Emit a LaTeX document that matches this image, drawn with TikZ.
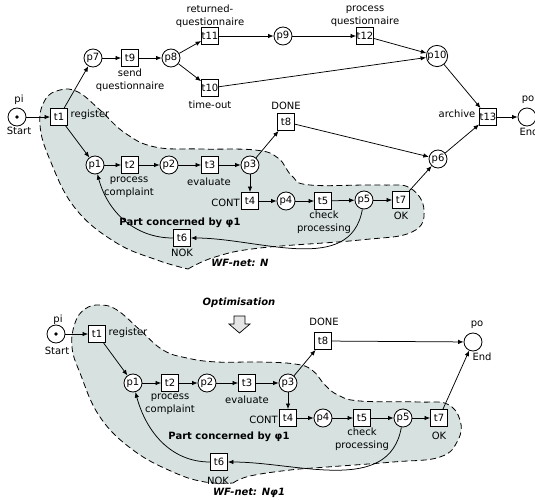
\documentclass[tikz,border=0pt]{standalone}
\usepackage{fontspec}
\setmainfont{DejaVu Sans}
\usetikzlibrary{arrows.meta}
\definecolor{blobfill}{RGB}{214,225,224}
\begin{document}
\begin{tikzpicture}[x=1pt,y=-1pt,
  fnt/.style={font=\fontsize{10}{12.5}\selectfont},
  pl/.style={circle,draw,line width=0.85pt,minimum size=18pt,inner sep=0pt,fill=white,fnt},
  tr/.style={rectangle,draw,line width=0.85pt,minimum size=17pt,inner sep=0pt,fill=white,fnt},
  arc/.style={-{Latex[length=5.5pt,width=4.5pt]},line width=0.75pt},
  lbl/.style={inner sep=0pt,align=center,fnt},
  bl/.style={fill=blobfill,draw,dash pattern=on 6pt off 3.5pt,line width=0.8pt},
  ttl/.style={inner sep=0pt,font=\fontsize{10}{12}\selectfont\bfseries},
  ttli/.style={inner sep=0pt,font=\fontsize{10}{12}\selectfont\bfseries\itshape}
]
\useasboundingbox (0,0) rectangle (535,499);

% ---------- blobs ----------
\draw[bl] plot[smooth,tension=0.7] coordinates {
 (188,269) (215,257) (260,248) (360,240) (412,232) (424,210) (410,188) (380,185)
 (310,185) (292,176) (278,158) (255,150) (200,149) (155,147) (125,133) (100,110)
 (78,92) (60,90) (45,100) (40,125) (50,160) (75,208) (115,242) (157,260) (188,269)} -- cycle;

\draw[bl] plot[smooth,tension=0.7] coordinates {
 (233,483) (250,476) (290,470) (327,467) (393,462) (440,457) (458,440) (460,420)
 (447,404) (420,402) (360,401) (338,395) (325,385) (312,370) (295,364) (260,362)
 (217,362) (187,358) (163,350) (140,330) (117,310) (100,305) (85,309) (75,323)
 (72,347) (80,373) (100,417) (133,450) (173,472) (205,482) (233,483)} -- cycle;

% ---------- top net ----------
\node[pl] (pi) at (17,117) {};
\fill (pi.center) circle (1.8pt);
\node[tr] (t1) at (59,117) {t1};
\node[pl] (p7) at (93,58) {p7};
\node[tr] (t9) at (130,58) {t9};
\node[pl] (p8) at (171,58) {p8};
\node[tr] (t11) at (210,36) {t11};
\node[tr] (t10) at (210,88) {t10};
\node[pl] (p9) at (283,36) {p9};
\node[tr] (t12) at (365,36) {t12};
\node[pl] (p10) at (437,56) {p10};
\node[tr] (t13) at (488,117) {t13};
\node[pl] (po) at (527,117) {};
\node[tr] (t8) at (286,122) {t8};
\node[pl] (p6) at (438,159) {p6};
\node[pl] (p1) at (95,165) {p1};
\node[tr] (t2) at (130,165) {t2};
\node[pl] (p2) at (169,165) {p2};
\node[tr] (t3) at (210,165) {t3};
\node[pl] (p3) at (250,165) {p3};
\node[tr] (t4) at (250,201) {t4};
\node[pl] (p4) at (286,201) {p4};
\node[tr] (t5) at (323,201) {t5};
\node[pl] (p5) at (364,200) {p5};
\node[tr] (t7) at (401,200) {t7};
\node[tr] (t6) at (182,238) {t6};

\node[lbl] (Lpi) at (19,100) {pi};
\node[lbl] (Lstart) at (19,131) {Start};
\node[lbl] (Lreg) at (90,115) {register};
\node[lbl] (Lsend) at (130,80) {send\\questionnaire};
\node[lbl] (Lret) at (210,16) {returned-\\questionnaire};
\node[lbl] (Ltime) at (210,105) {time-out};
\node[lbl] (Lproq) at (365,16) {process\\questionnaire};
\node[lbl] (Larch) at (457,114) {archive};
\node[lbl] (Lpo) at (528,100) {po};
\node[lbl] (Lend) at (529,132) {End};
\node[lbl] (Ldone) at (286,106) {DONE};
\node[lbl] (Lproc) at (129,187) {process\\complaint};
\node[lbl] (Leval) at (209,182) {evaluate};
\node[lbl,anchor=east] (Lcont) at (240,203) {CONT};
\node[lbl] (Lcheck) at (324,222) {check\\processing};
\node[lbl] (Lok) at (401,216) {OK};
\node[lbl] (Lnok) at (182,253) {NOK};
\node[ttl] (Lpart) at (180,223) {Part concerned by φ1};
\node[ttli] (Lwf) at (240,263) {WF-net: N};

\draw[arc] (pi) -- (t1);
\draw[arc] (t1) -- (p7);
\draw[arc] (t1) -- (p1);
\draw[arc] (p7) -- (t9);
\draw[arc] (t9) -- (p8);
\draw[arc] (p8) -- (t11);
\draw[arc] (p8) -- (t10);
\draw[arc] (t11) -- (p9);
\draw[arc] (p9) -- (t12);
\draw[arc] (t12) -- (p10);
\draw[arc] (t10) -- (p10);
\draw[arc] (p10) -- (t13);
\draw[arc] (t13) -- (po);
\draw[arc] (p3) -- (t8);
\draw[arc] (t8) -- (p6);
\draw[arc] (t7) -- (p6);
\draw[arc] (p6) -- (t13);
\draw[arc] (p1) -- (t2);
\draw[arc] (t2) -- (p2);
\draw[arc] (p2) -- (t3);
\draw[arc] (t3) -- (p3);
\draw[arc] (p3) -- (t4);
\draw[arc] (t4) -- (p4);
\draw[arc] (p4) -- (t5);
\draw[arc] (t5) -- (p5);
\draw[arc] (p5) -- (t7);
\draw[arc] (p5) to[out=-100,in=0] (t6);
\draw[arc] (t6) to[out=180,in=-75] (p1);

% ---------- optimisation ----------
\node[ttli] (Lopt) at (239,303) {Optimisation};
\draw[line width=0.7pt,fill=gray!20] (234,316) -- (245,316) -- (245,324) -- (250,324)
  -- (239.5,333) -- (229,324) -- (234,324) -- cycle;

% ---------- bottom net ----------
\node[pl] (bpi) at (56,334) {};
\fill (bpi.center) circle (1.8pt);
\node[tr] (bt1) at (97,334) {t1};
\node[pl] (bp1) at (133,383) {p1};
\node[tr] (bt2) at (170,383) {t2};
\node[pl] (bp2) at (207,383) {p2};
\node[tr] (bt3) at (247,383) {t3};
\node[pl] (bp3) at (288,383) {p3};
\node[tr] (bt8) at (323,341) {t8};
\node[pl] (bpo) at (473,342) {};
\node[tr] (bt4) at (288,418) {t4};
\node[pl] (bp4) at (323,418) {p4};
\node[tr] (bt5) at (362,418) {t5};
\node[pl] (bp5) at (403,418) {p5};
\node[tr] (bt7) at (439,418) {t7};
\node[tr] (bt6) at (219,462) {t6};

\node[lbl] (bLpi) at (58,320) {pi};
\node[lbl] (bLstart) at (57,351) {Start};
\node[lbl] (bLreg) at (128,333) {register};
\node[lbl] (bLproc) at (170,404) {process\\complaint};
\node[lbl] (bLeval) at (247,400) {evaluate};
\node[lbl] (bLdone) at (324,322) {DONE};
\node[lbl] (bLpo) at (477,325) {po};
\node[lbl] (bLend) at (482,357) {End};
\node[lbl,anchor=east] (bLcont) at (278,420) {CONT};
\node[lbl] (bLcheck) at (362,439) {check\\processing};
\node[lbl] (bLok) at (439,436) {OK};
\node[lbl] (bLnok) at (218,481) {NOK};
\node[ttl] (bLpart) at (229,437) {Part concerned by φ1};
\node[ttli] (bLwf) at (249,493) {WF-net: Nφ1};

\draw[arc] (bpi) -- (bt1);
\draw[arc] (bt1) -- (bp1);
\draw[arc] (bp1) -- (bt2);
\draw[arc] (bt2) -- (bp2);
\draw[arc] (bp2) -- (bt3);
\draw[arc] (bt3) -- (bp3);
\draw[arc] (bp3) -- (bt8);
\draw[arc] (bp3) -- (bt4);
\draw[arc] (bt8) -- (bpo);
\draw[arc] (bt4) -- (bp4);
\draw[arc] (bp4) -- (bt5);
\draw[arc] (bt5) -- (bp5);
\draw[arc] (bp5) -- (bt7);
\draw[arc] (bt7) -- (bpo);
\draw[arc] (bp5) to[out=-100,in=0] (bt6);
\draw[arc] (bt6) to[out=180,in=-75] (bp1);
\end{tikzpicture}
\end{document}
